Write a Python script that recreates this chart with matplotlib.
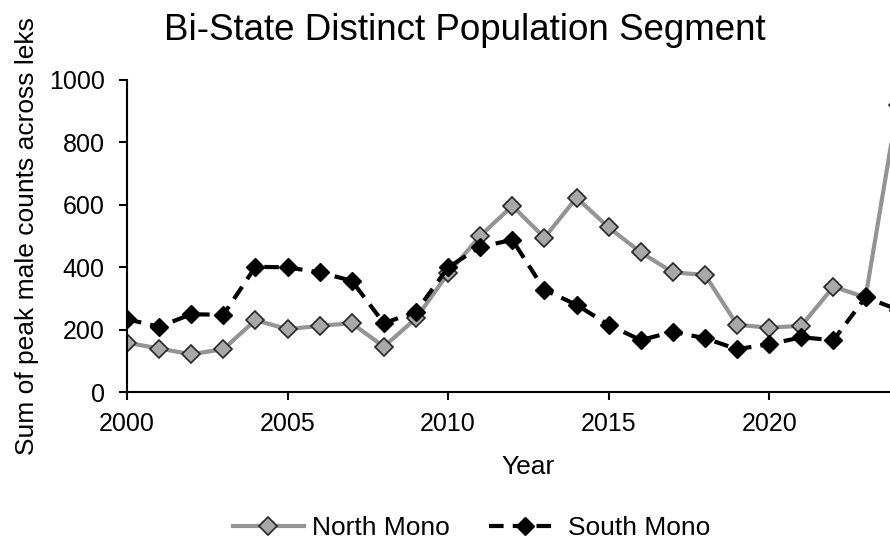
import matplotlib
matplotlib.use('Agg')
from matplotlib import pyplot as plt

# data
years = list(range(2000, 2025))
north_mono = [159, 140, 122, 138, 231, 202, 213, 221, 146, 237, 381, 501,
              597, 495, 623, 528, 448, 384, 376, 216, 207, 213, 338, 304, 920]
south_mono = [234, 210, 250, 248, 402, 400, 384, 357, 221, 258, 400, 466,
              488, 328, 280, 216, 167, 194, 173, 138, 154, 176, 167, 304, 265]

plt.rcParams['font.family'] = ['Liberation Sans', 'DejaVu Sans']

fig = plt.figure(figsize=(8.9, 5.46), dpi=100)
# axes run past the right edge, the reference is cropped there
ax = fig.add_axes([0.1427, 0.2815, 0.902, 0.572])

ax.plot(years, north_mono, color='#949494', lw=3, marker='D', ms=9,
        mfc='#a8a8a8', mec='#262626', mew=1.2, label='North Mono')
ax.plot(years, south_mono, color='black', lw=3, ls=(0, (3.5, 2.2)), marker='D',
        ms=9, mfc='black', mec='black', label='South Mono')

ax.set(xlim=(2000, 2025), ylim=(0, 1000))
ax.set_xticks(range(2000, 2025, 5))
ax.set_yticks(range(0, 1001, 200))
ax.spines['top'].set_visible(False)
ax.spines['right'].set_visible(False)
ax.spines['left'].set_linewidth(1.5)
ax.spines['bottom'].set_linewidth(1.5)
ax.tick_params(labelsize=18, width=1.5, length=6, colors='black')
ax.tick_params(axis='x', pad=8)
ax.tick_params(axis='y', pad=10)

ax.set_xlabel('Year', fontsize=19, labelpad=14)
ax.set_ylabel('Sum of peak male counts across leks', fontsize=19, labelpad=7)
fig.text(0.522, 0.944, 'Bi-State Distinct Population Segment', fontsize=26.5,
         ha='center', va='center')

fig.legend(loc='center', bbox_to_anchor=(0.53, 0.033), ncol=2, frameon=False,
           fontsize=19, handlelength=2.7, handletextpad=0.3, columnspacing=1.5)

plt.savefig('out.png', dpi=100)
